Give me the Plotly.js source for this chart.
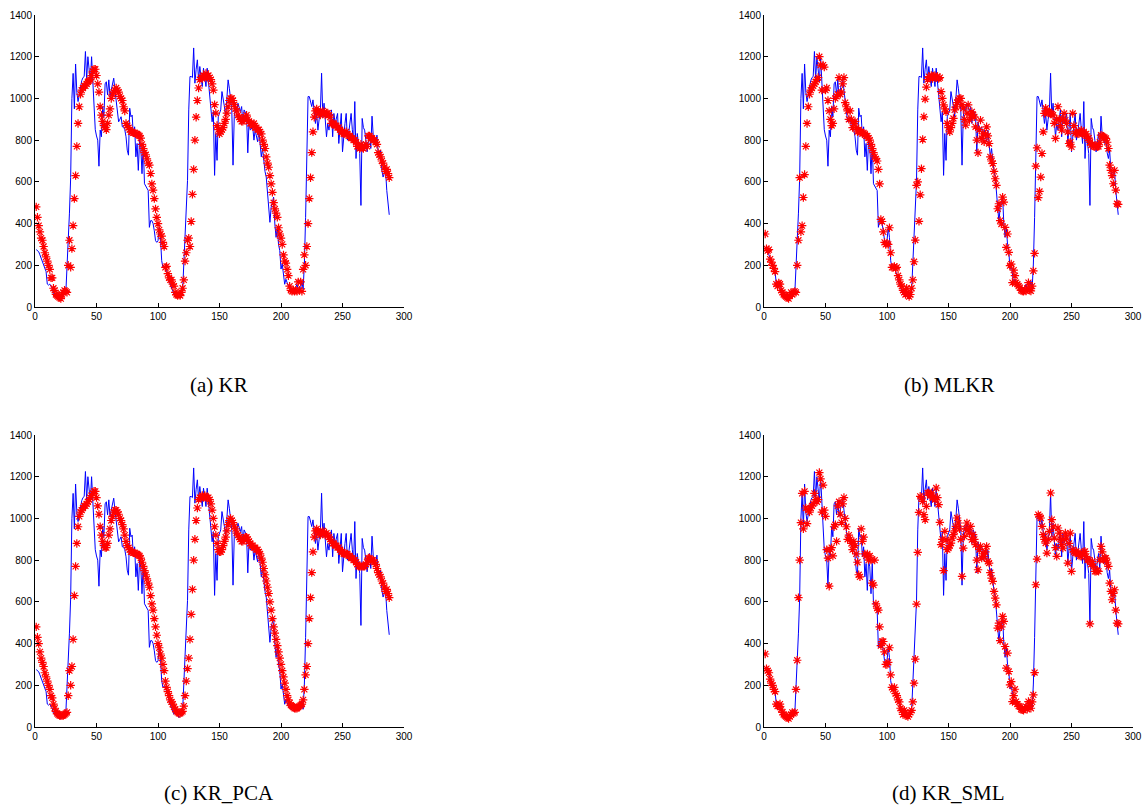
<!DOCTYPE html>
<html>
<head>
<meta charset="utf-8">
<script src="https://cdn.plot.ly/plotly-3.0.1.min.js"></script>
<style>html,body{margin:0;padding:0;background:#fff;}#chart{width:1144px;height:809px;}</style>
</head>
<body>
<div id="chart"></div>
<script>
// Actual series (blue line), identical in all four panels
const actual = [
275,270,265,250,235,215,200,185,170,110,
105,110,100,90,65,60,55,50,45,40,
38,50,60,65,60,180,300,450,620,1000,
1120,950,1165,1030,985,1020,1065,1085,1100,1105,
1225,1090,1200,1120,1080,1200,1075,990,850,820,
800,675,848,816,960,912,1070,1080,1017,1089,
1009,1040,1065,1097,1040,993,928,888,900,912,
864,864,850,816,752,728,953,912,920,816,
864,720,784,655,800,768,639,784,591,580,
575,559,382,414,414,400,366,318,310,318,
382,334,222,190,195,190,170,157,125,109,
90,77,61,77,70,61,45,53,60,77,
205,366,520,607,945,1105,1105,1100,1242,1073,
1140,1185,1089,1153,1100,1057,1145,1100,1057,1145,
1070,1009,950,888,937,631,832,703,912,930,
945,1033,1000,961,912,993,1089,1049,1000,945,
680,912,961,937,977,950,937,961,880,945,
930,920,739,888,848,856,864,800,848,820,
792,848,780,720,760,688,650,623,559,495,
406,479,500,527,398,334,382,300,270,182,
206,150,109,133,109,100,90,85,80,78,
77,90,109,85,80,90,125,85,206,430,
750,1009,1009,990,961,993,945,880,928,848,
900,937,1121,912,977,900,816,880,848,900,
945,816,928,880,900,928,784,880,928,744,
830,880,928,800,832,880,928,850,784,985,
712,832,780,736,487,904,860,848,800,744,
790,832,760,915,820,800,784,824,740,712,
752,655,623,640,655,559,495,442];

// (a) KR predictions
const predKR = [
480,430,390,360,330,320,290,260,240,220,
200,180,140,140,90,80,60,55,50,45,
40,60,70,80,75,70,200,320,190,280,
390,520,630,770,880,960,1020,1040,1050,1060,
1060,1070,1080,1085,1090,1110,1130,1140,1140,1110,
1070,1030,960,920,890,870,860,850,880,920,
950,1000,1020,1030,1040,1050,1040,1030,1010,1000,
990,960,940,880,870,860,850,840,840,835,
835,830,830,825,820,810,780,760,740,730,
710,690,680,640,590,560,520,470,430,400,
370,350,340,310,290,190,195,160,140,130,
130,110,100,70,60,55,60,55,70,90,
130,220,260,320,330,290,410,540,660,800,
910,990,1050,1090,1100,1100,1110,1100,1120,1100,
1110,1100,1090,1070,1040,970,930,870,850,830,
840,850,860,880,900,930,960,990,1000,1000,
990,970,950,940,920,910,900,890,890,900,
910,920,900,890,880,880,870,880,860,860,
850,850,840,830,800,780,760,720,690,670,
630,590,550,500,470,450,430,380,350,330,
300,250,220,210,180,150,100,80,75,80,
75,80,75,120,80,120,75,180,250,200,
290,400,520,620,740,840,910,940,950,940,
930,920,930,940,930,920,930,930,920,910,
880,880,880,870,870,860,860,850,840,840,
830,830,840,830,820,820,810,810,800,800,
790,770,770,760,780,770,760,770,780,770,
820,820,810,810,800,800,790,780,740,730,
720,700,690,670,650,660,640,620];

// (b) MLKR predictions
const predMLKR = [
350,280,270,275,230,215,200,185,170,110,
100,115,110,80,70,60,55,50,45,40,
55,70,60,70,75,70,200,320,620,360,
390,525,635,770,880,960,1020,1040,1050,1060,
1070,1080,1090,1100,1200,1160,1040,1160,1150,1040,
1050,990,940,900,870,880,950,1000,1010,1020,
1100,1020,1030,1070,1100,980,960,940,900,940,
900,860,880,890,860,840,850,840,840,830,
835,830,820,820,810,800,780,760,740,720,
710,700,660,590,420,410,360,310,300,305,
300,380,260,190,190,195,185,190,150,130,
110,100,80,70,60,90,70,50,60,90,
130,217,321,583,600,411,538,663,803,912,
997,1054,1090,1105,1100,1110,1095,1105,1110,1100,
1105,1095,1100,1033,1000,969,950,936,880,860,
840,860,880,904,945,960,980,993,1000,1000,
970,953,900,872,930,969,896,920,936,920,
912,864,800,739,850,896,808,830,792,830,
864,820,784,720,700,688,650,615,583,471,
495,414,398,527,503,382,286,350,262,198,
206,117,177,150,117,110,100,93,80,77,
75,80,77,90,117,80,77,100,173,257,
675,763,524,554,623,736,840,928,953,940,
930,936,930,925,920,880,808,900,960,900,
870,848,900,928,896,880,840,784,790,768,
928,870,832,840,832,830,840,848,830,840,
824,830,808,810,790,776,780,770,768,775,
768,770,790,824,820,816,812,808,790,760,
680,655,630,591,655,560,495,492];

// (c) KR_PCA predictions
const predKRPCA = [
480,430,400,360,330,310,290,260,240,220,
200,180,150,140,110,90,75,65,60,55,
55,55,55,60,65,70,150,270,200,290,
420,630,770,880,960,1010,1030,1040,1050,1060,
1060,1070,1080,1090,1100,1110,1120,1130,1130,1100,
1060,1020,960,920,890,870,860,860,880,920,
950,990,1010,1030,1040,1040,1030,1020,1000,990,
970,950,920,890,870,860,850,840,840,835,
835,830,830,825,820,810,790,770,750,730,
710,690,670,630,590,560,520,480,440,400,
380,350,330,300,270,220,190,170,150,130,
120,110,95,85,75,70,65,65,70,75,
100,150,220,280,330,420,540,660,800,900,
990,1050,1090,1100,1100,1110,1100,1110,1100,1100,
1100,1090,1070,1040,1000,960,920,880,850,840,
840,850,870,890,910,940,970,990,1000,990,
980,960,950,930,920,910,900,890,890,900,
910,910,900,890,880,870,870,860,860,850,
850,840,830,810,790,760,730,700,670,640,
600,560,520,480,450,420,390,360,330,300,
270,240,210,180,150,130,115,105,100,95,
90,90,90,95,100,105,110,130,180,250,
290,400,520,620,740,840,910,940,950,940,
930,920,930,940,930,920,930,920,910,900,
890,880,880,870,870,860,860,850,840,840,
830,830,830,830,820,820,810,810,800,800,
790,780,770,770,770,770,770,770,780,790,
810,810,800,800,800,790,780,760,740,730,
720,700,690,670,650,660,640,620];

// (d) KR_SML predictions
const predKRSML = [
350,280,270,260,230,210,200,180,170,110,
100,100,110,85,70,60,55,50,45,40,
50,60,70,65,70,180,320,620,800,980,
1120,950,1130,1050,975,1040,1030,1050,1060,1070,
1120,1090,1080,1090,1220,1190,1030,1160,1040,1010,
850,810,675,850,860,820,960,970,890,1060,
1080,1020,980,1070,1100,1000,960,900,920,900,
880,850,890,870,830,790,730,720,950,890,
910,830,820,830,800,820,800,690,680,800,
590,570,560,480,390,410,410,360,300,300,
310,380,250,190,180,190,160,150,130,120,
90,80,60,80,70,55,50,60,70,80,
120,210,325,589,837,1029,1106,1100,1082,1018,
994,1058,1122,1122,1110,1122,1098,1106,1090,1146,
1100,1066,981,874,900,750,938,898,850,858,
870,882,906,922,940,962,1002,978,950,900,
722,858,914,950,978,946,930,962,898,922,
900,874,800,754,850,866,810,830,818,840,
866,794,786,740,714,698,650,618,586,474,
498,414,480,530,506,386,282,354,266,202,
218,122,150,181,122,110,100,98,85,82,
80,90,98,85,122,100,90,120,154,261,
682,805,1018,1010,1002,962,922,900,882,834,
900,938,1122,994,960,906,860,818,954,930,
900,874,858,900,930,906,786,880,930,746,
850,840,834,842,834,830,820,818,830,840,
842,818,802,800,494,780,794,770,746,746,
750,746,802,866,840,802,810,810,790,770,
690,650,610,640,658,560,498,494];

const captions = ['(a) KR', '(b) MLKR', '(c) KR_PCA', '(d) KR_SML'];
const xTicks = [0, 50, 100, 150, 200, 250, 300];
const yTicks = [0, 200, 400, 600, 800, 1000, 1200, 1400];

const preds = [predKR, predMLKR, predKRPCA, predKRSML];
const idx = actual.map((_, i) => i + 1);

const traces = [];
preds.forEach((p, k) => {
  const ax = k === 0 ? '' : String(k + 1);
  traces.push({
    x: idx, y: actual, type: 'scatter', mode: 'lines',
    line: {color: '#0000ff', width: 1},
    xaxis: 'x' + ax, yaxis: 'y' + ax, hoverinfo: 'skip'
  });
  traces.push({
    x: p.map((_, i) => i + 1), y: p, type: 'scatter', mode: 'markers',
    marker: {symbol: 'asterisk-open', size: 7, color: '#ff0000',
             line: {color: '#ff0000', width: 1.2}},
    xaxis: 'x' + ax, yaxis: 'y' + ax, hoverinfo: 'skip'
  });
});

const W = 1144, H = 809;
const xDomL = [35 / W, 404 / W];
const xDomR = [764 / W, 1133 / W];
const yDomT = [1 - 307 / H, 1 - 15 / H];
const yDomB = [1 - 727 / H, 1 - 435 / H];

const tickFont = {family: 'Liberation Sans, Arial, sans-serif', size: 10, color: '#000'};
function xa(dom, anchor) {
  return {domain: dom, anchor: anchor, range: [0, 300], tickvals: xTicks,
    ticktext: xTicks.map(String), ticks: 'inside', ticklen: 4, tickcolor: '#000',
    showline: true, linecolor: '#000', linewidth: 1, showgrid: false, zeroline: false,
    tickfont: tickFont, fixedrange: true};
}
function ya(dom, anchor) {
  return {domain: dom, anchor: anchor, range: [0, 1400], tickvals: yTicks,
    ticktext: yTicks.map(String), ticks: 'inside', ticklen: 4, tickcolor: '#000',
    showline: true, linecolor: '#000', linewidth: 1, showgrid: false, zeroline: false,
    tickfont: tickFont, fixedrange: true};
}

const capFont = {family: 'Liberation Serif, Times New Roman, serif', size: 21, color: '#000'};
const capY = [1 - 385 / H, 1 - 385 / H, 1 - 793 / H, 1 - 793 / H];
const capX = [(xDomL[0] + xDomL[1]) / 2, (xDomR[0] + xDomR[1]) / 2,
              (xDomL[0] + xDomL[1]) / 2, (xDomR[0] + xDomR[1]) / 2];

const layout = {
  width: W, height: H, margin: {l: 0, r: 0, t: 0, b: 0},
  paper_bgcolor: '#fff', plot_bgcolor: '#fff', showlegend: false,
  xaxis: xa(xDomL, 'y'), yaxis: ya(yDomT, 'x'),
  xaxis2: xa(xDomR, 'y2'), yaxis2: ya(yDomT, 'x2'),
  xaxis3: xa(xDomL, 'y3'), yaxis3: ya(yDomB, 'x3'),
  xaxis4: xa(xDomR, 'y4'), yaxis4: ya(yDomB, 'x4'),
  annotations: captions.map((t, i) => ({
    text: t, xref: 'paper', yref: 'paper', x: capX[i], y: capY[i],
    xanchor: 'center', yanchor: 'middle', showarrow: false, font: capFont
  }))
};

Plotly.newPlot('chart', traces, layout, {displayModeBar: false, staticPlot: true});
</script>
</body>
</html>
